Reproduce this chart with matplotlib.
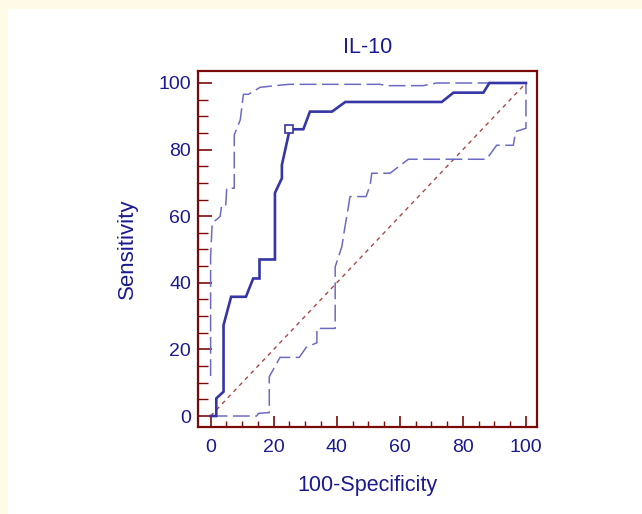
import matplotlib
matplotlib.use("Agg")
import matplotlib.pyplot as plt
from matplotlib.patches import Rectangle

# ROC curve (100-Specificity, Sensitivity)
roc_x = [0, 1.8, 1.8, 4.1, 4.1, 6.5, 11.2, 13.5, 15.5, 15.5, 20.4, 20.4, 22.6, 22.6,
         25.0, 25.0, 29.4, 31.5, 38.5, 42.7, 73.3, 77.0, 86.5, 88.4, 100]
roc_y = [0, 0, 5.3, 7.3, 27.3, 35.8, 35.8, 41.3, 41.3, 47.0, 47.0, 67.0, 71.4, 75.4,
         85.7, 86.1, 86.1, 91.4, 91.4, 94.3, 94.3, 97.1, 97.1, 100, 100]

# upper confidence bound
up_x = [0, 0, 0.5, 3.0, 3.5, 4.8, 5.1, 7.5, 7.5, 9.4, 10.4, 12.0, 15.7, 22.6, 25.0,
        53.7, 55.8, 67.4, 71.7, 100]
up_y = [12, 48, 57.9, 59.9, 63.2, 63.2, 68.4, 68.4, 84.4, 88.9, 96.6, 96.6, 98.7, 99.4,
        99.6, 99.6, 99.2, 99.2, 100, 100]

# lower confidence bound
lo_x = [0, 14.6, 15.2, 18.0, 18.6, 18.6, 22.0, 28.1, 30.3, 33.7, 33.7, 39.5, 39.5,
        41.6, 42.6, 43.7, 44.2, 49.3, 50.6, 51.1, 56.9, 62.7, 87.5, 90.7, 96.0, 96.7,
        100, 100]
lo_y = [0, 0, 0.8, 1.0, 1.0, 11.8, 17.6, 17.6, 20.6, 22.0, 26.3, 26.3, 44.8,
        50.8, 56.8, 62.9, 65.9, 65.9, 69.4, 72.9, 72.9, 77.1, 77.1, 81.3, 81.3, 85.4,
        86.4, 100]

# optimal cut-off point
cut_x = [25.0]
cut_y = [86.1]

ticks = [0, 20, 40, 60, 80, 100]
title = "IL-10"
xlabel = "100-Specificity"
ylabel = "Sensitivity"

navy = "#1a1a90"
roc_col = "#3535a5"
ci_col = "#6b6bc2"
maroon = "#7a0a0a"
diag_col = "#a84848"

plt.rcParams['font.family'] = ['Liberation Sans', 'DejaVu Sans']

fig = plt.figure(figsize=(6.42, 5.14), dpi=100)
fig.patch.set_facecolor("#fffbe6")
fig.patches.append(Rectangle((8/642, 0), 1, (514-9)/514, transform=fig.transFigure,
                             facecolor="white", edgecolor="none", zorder=-10))

ax = fig.add_axes([198/642, (514-427)/514, (537-198)/642, (427-71)/514])
ax.set_facecolor("white")

ax.plot([0, 100], [0, 100], color=diag_col, lw=1.0, linestyle=(0, (3, 3)))
ax.plot(up_x, up_y, color=ci_col, lw=1.1, linestyle=(0, (11, 3.6)))
ax.plot(lo_x, lo_y, color=ci_col, lw=1.1, linestyle=(0, (11, 3.6)))
ax.plot(roc_x, roc_y, color=roc_col, lw=1.9, solid_joinstyle='miter')
ax.plot(cut_x, cut_y, marker='s', ms=5.5, mfc='white', mec=roc_col, mew=1.2, ls='none')

ax.set_xlim(-4, 103.5)
ax.set_ylim(-3.3, 103.6)
ax.set_xticks(ticks)
ax.set_yticks(ticks)
ax.set_xticks(range(0, 101, 5), minor=True)
ax.set_yticks(range(0, 101, 5), minor=True)

for s in ax.spines.values():
    s.set_color(maroon)
    s.set_linewidth(1.6)

ax.tick_params(axis='x', which='major', direction='in', length=8, width=1.2,
               color=maroon, labelcolor=navy, labelsize=14, pad=9)
ax.tick_params(axis='x', which='minor', direction='in', length=4, width=1.0, color=maroon)
ax.tick_params(axis='y', which='major', direction='in', length=10, width=1.2,
               color=maroon, labelcolor=navy, labelsize=14, pad=5)
ax.tick_params(axis='y', which='minor', direction='in', length=7, width=1.0, color=maroon)

ax.set_xlabel(xlabel, color=navy, fontsize=15.5)
ax.set_ylabel(ylabel, color=navy, fontsize=16)
ax.xaxis.set_label_coords(0.5, -0.163)
ax.yaxis.set_label_coords(-0.209, 0.5)
ax.xaxis.label.set_va('center')
ax.yaxis.label.set_va('center')
ax.text(0.5, 1.065, title, transform=ax.transAxes, ha='center', va='center',
        color=navy, fontsize=15.5)

fig.savefig("out.png", dpi=100, facecolor=fig.get_facecolor())
